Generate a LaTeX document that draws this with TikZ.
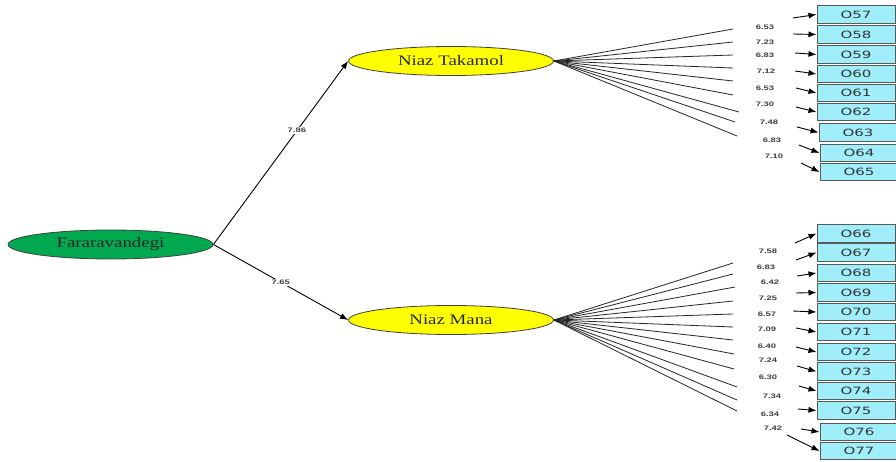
\documentclass[tikz,border=0pt]{standalone}
\usepackage{fontspec}
\setmainfont{Liberation Serif}
\newfontfamily\ellfont[FakeStretch=1.3]{Liberation Serif}
\newfontfamily\boxfont[FakeStretch=1.5]{DejaVu Sans}
\newfontfamily\numfont[FakeStretch=1.45]{Liberation Sans}
\usetikzlibrary{shapes.geometric,arrows.meta}
\definecolor{latgreen}{RGB}{0,168,80}
\definecolor{latyellow}{RGB}{255,255,0}
\definecolor{obscyan}{RGB}{160,238,250}
\tikzset{
  x=1pt, y=-1pt,
  latent/.style={ellipse, draw=black!75, line width=0.8pt, minimum width=205pt, minimum height=29pt, inner sep=0pt, font=\ellfont\fontsize{14.5}{16}\selectfont, text=black!85},
  obsbox/.style={rectangle, draw=black!65, line width=1pt, fill=obscyan, minimum width=78pt, minimum height=17.5pt, inner sep=0pt, font=\boxfont\fontsize{10}{12}\selectfont, text=black!80},
  numlab/.style={inner sep=1pt, font=\numfont\bfseries\fontsize{6.5}{7}\selectfont, text=black!75},
  fan/.style={draw=black!85, line width=0.8pt},
  arr/.style={draw=black, line width=0.9pt, -{Latex[length=8pt,width=6pt]}},
}
\begin{document}
\begin{tikzpicture}
\useasboundingbox (0,0) rectangle (896,462);
\fill[white] (0,0) rectangle (896,462);

% latent variables
\node[latent, fill=latgreen] (F) at (110.5,244.5) {Fararavandegi};
\node[latent, fill=latyellow] (NT) at (451,61) {Niaz Takamol};
\node[latent, fill=latyellow] (NM) at (451,320) {Niaz Mana};

\draw[arr] (F.east) -- node[numlab, fill=white, pos=0.62] (l1) {7.86} (NT.west);
\draw[arr] (F.east) -- node[numlab, fill=white, pos=0.5] (l2) {7.65} (NM.west);

% upper indicators: name, box x, box y, line end x, y, label x, y, label, arrow start x, y
\foreach \n/\bx/\by/\ex/\ey/\lx/\ly/\t/\sx/\sy in {
  57/856/14.5/733/29/765/27/6.53/793/18,
  58/856/34.5/733/42/765/42/7.23/793/34,
  59/856/54.5/733/55/765/55/6.83/795/53,
  60/856/74/733/68/766/71/7.12/795/71,
  61/856/93/733/81/765/88/6.53/796/88,
  62/856/112/733/95/765/104/7.30/796/107,
  63/858/132.5/739/112/769/122/7.48/797/127,
  64/859/153/735/122/772/140/6.83/799/145,
  65/859/172/737/136/774/156/7.10/801/163}{
  \node[obsbox] (b\n) at (\bx,\by) {O\n};
  \coordinate (e\n) at (\ex,\ey);
  \coordinate (s\n) at (\sx,\sy);
  \node[numlab] (t\n) at (\lx,\ly) {\t};
  \draw[fan] (NT.east) -- (e\n);
  \draw[arr] (s\n) -- (b\n.west);
}

% lower indicators
\foreach \n/\bx/\by/\ex/\ey/\lx/\ly/\t/\sx/\sy in {
  66/856/233.5/733/263/768/251/7.58/795/243,
  67/856/252.5/733/274/766/267/6.83/796/260,
  68/856/273/735/287/770/282/6.42/797/276,
  69/856/292.5/733/301/768/298/7.25/796/293,
  70/856/312/733/314/767/314/6.57/793/311,
  71/856/332/733/327/767/329/7.09/796/328,
  72/856/352/733/340/767/346/6.40/796/347,
  73/856/371.5/734/354/768/360/7.24/797/366,
  74/856/391/734/369/768/377/6.30/799/386,
  75/856/410.5/737/387/772/396/7.34/798/409,
  76/859/432/737/400/770/414/6.34/801/429,
  77/859/451/737/411/773/428/7.42/787/435}{
  \node[obsbox] (b\n) at (\bx,\by) {O\n};
  \coordinate (e\n) at (\ex,\ey);
  \coordinate (s\n) at (\sx,\sy);
  \node[numlab] (t\n) at (\lx,\ly) {\t};
  \draw[fan] (NM.east) -- (e\n);
  \draw[arr] (s\n) -- (b\n.west);
}
\end{tikzpicture}
\end{document}
